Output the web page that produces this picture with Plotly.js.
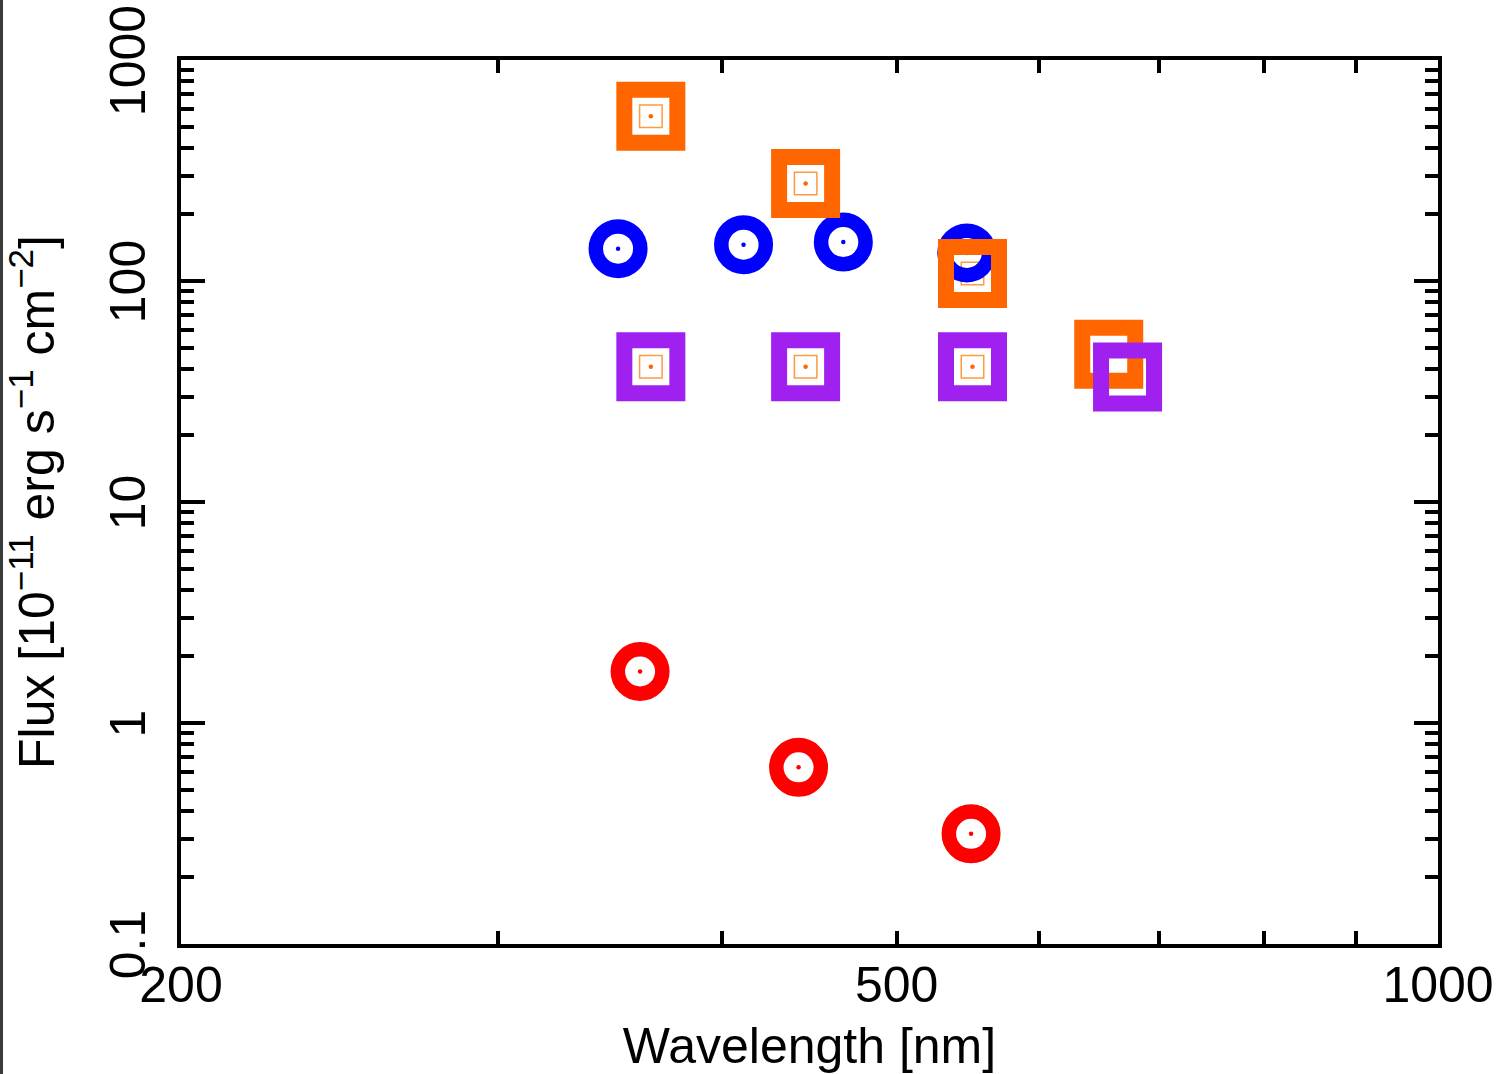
<!DOCTYPE html>
<html>
<head>
<meta charset="utf-8">
<script src="https://cdn.plot.ly/plotly-3.0.1.min.js"></script>
<style>
  html, body { margin: 0; padding: 0; background: #ffffff; }
  #chart { position: absolute; left: 0; top: 0; width: 1509px; height: 1074px; }
  #edge { position: absolute; left: 0; top: 0; width: 3px; height: 1074px; background: #3a3a3a; z-index: 10; }
</style>
</head>
<body>
<div id="chart"></div>
<div id="edge"></div>
<script>
// ---- data ----
const blueWl = [350, 411, 467, 547];
const blueFlux = [140, 146, 150, 134];

const orangeWl = [365, 445, 551, 656];
const orangeFlux = [557, 276, 108, 46.6];

const purpleWl = [365, 445, 551, 672];
const purpleFlux = [40.9, 40.9, 40.9, 36.8];

const redWl = [360, 441, 550];
const redFlux = [1.71, 0.63, 0.315];

// inner (thin square + dot) markers sit on the first three orange and purple points
const innerWl = orangeWl.slice(0, 3).concat(purpleWl.slice(0, 3));
const innerFlux = orangeFlux.slice(0, 3).concat(purpleFlux.slice(0, 3));

const xMajor = [200, 500, 1000];
const xMajorText = ['200', '500', '1000'];
const xMinor = [300, 400, 600, 700, 800, 900];

const yMajor = [0.1, 1, 10, 100, 1000];
const yMajorText = ['0.1', '1', '10', '100', '1000'];
const yMinor = [];
[0.1, 1, 10, 100].forEach(d => { for (let k = 2; k <= 9; k++) yMinor.push(+(d * k).toPrecision(3)); });

// ---- styles ----
const BLUE = '#0000ff', RED = '#ff0000', ORANGE = '#ff6600', PURPLE = '#a020f0', THIN = '#ff9a40';
const ringSize = 44.5, ringWidth = 14.5;
const boxSize = 53, boxWidth = 16;

function ring(x, y, color) {
  return { x, y, type: 'scatter', mode: 'markers', hoverinfo: 'skip', showlegend: false,
    marker: { symbol: 'circle-open', size: ringSize, color: color, line: { color: color, width: ringWidth } } };
}
function box(x, y, color) {
  return { x, y, type: 'scatter', mode: 'markers', hoverinfo: 'skip', showlegend: false,
    marker: { symbol: 'square-open', size: boxSize, color: color, line: { color: color, width: boxWidth } } };
}
function dot(x, y, color) {
  return { x, y, type: 'scatter', mode: 'markers', hoverinfo: 'skip', showlegend: false,
    marker: { symbol: 'circle', size: 4.5, color: color, line: { width: 0 } } };
}

const traces = [
  { x: innerWl, y: innerFlux, type: 'scatter', mode: 'markers', hoverinfo: 'skip', showlegend: false,
    marker: { symbol: 'square-open', size: 22.5, color: THIN, line: { color: THIN, width: 1.5 } } },
  dot(innerWl, innerFlux, ORANGE),
  ring(blueWl, blueFlux, BLUE),
  dot(blueWl, blueFlux, BLUE),
  ring(redWl, redFlux, RED),
  dot(redWl, redFlux, RED),
  box(orangeWl, orangeFlux, ORANGE),
  box(purpleWl, purpleFlux, PURPLE)
];

const FONT = '"Liberation Sans", Arial, Helvetica, sans-serif';

const layout = {
  width: 1509, height: 1074,
  margin: { l: 180.5, r: 70.5, t: 60.3, b: 130.3, pad: 0 },
  paper_bgcolor: '#ffffff', plot_bgcolor: '#ffffff',
  font: { family: FONT, size: 50, color: '#000000' },
  showlegend: false,
  xaxis: {
    type: 'log', range: [Math.log10(200), Math.log10(1000)],
    showgrid: false, zeroline: false,
    showline: true, linecolor: '#000000', linewidth: 4, mirror: 'ticks',
    ticks: 'inside', ticklen: 13, tickwidth: 4, tickcolor: '#000000',
    tickmode: 'array', tickvals: xMajor, ticktext: xMajorText,
    tickfont: { family: FONT, size: 50, color: '#000000' },
    ticklabelstandoff: -6, ticklabeloverflow: 'allow',
    minor: { tickmode: 'array', tickvals: xMinor, ticks: 'inside', ticklen: 13, tickwidth: 4, tickcolor: '#000000', showgrid: false },
    title: { text: 'Wavelength [nm]', font: { family: FONT, size: 50, color: '#000000' }, standoff: 26 }
  },
  yaxis: {
    type: 'log', range: [-1, 3],
    showgrid: false, zeroline: false,
    showline: true, linecolor: '#000000', linewidth: 4, mirror: 'ticks',
    ticks: 'inside', ticklen: 24, tickwidth: 4, tickcolor: '#000000',
    tickmode: 'array', tickvals: yMajor, ticktext: yMajorText,
    tickangle: -90,
    tickfont: { family: FONT, size: 50, color: '#000000' },
    ticklabelstandoff: 12, ticklabelshift: 8, ticklabeloverflow: 'allow',
    minor: { tickmode: 'array', tickvals: yMinor, ticks: 'inside', ticklen: 13, tickwidth: 4, tickcolor: '#000000', showgrid: false },
    title: { text: 'Flux [10<sup>−11</sup> erg s<sup>−1</sup> cm<sup>−2</sup>]', font: { family: FONT, size: 50, color: '#000000' }, standoff: 31 }
  }
};

Plotly.newPlot('chart', traces, layout, { staticPlot: true, displayModeBar: false });
</script>
</body>
</html>
